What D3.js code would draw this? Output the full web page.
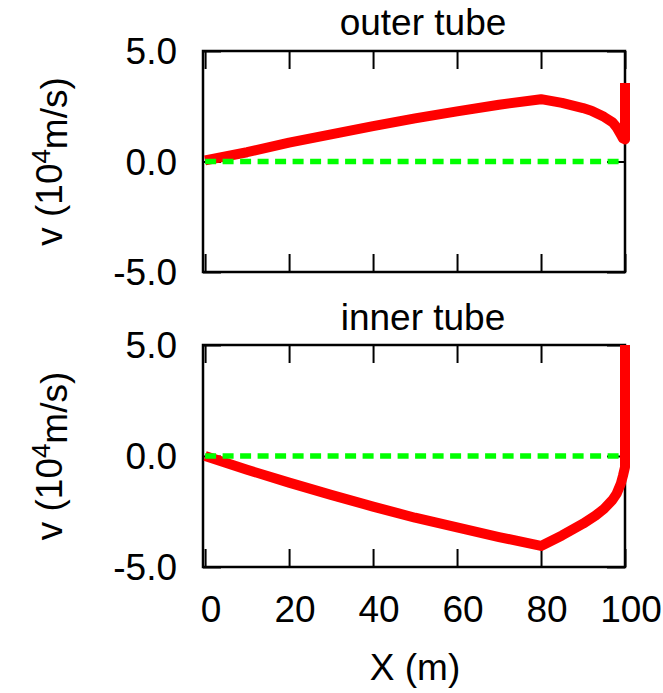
<!DOCTYPE html>
<html><head><meta charset="utf-8">
<script src="https://cdn.jsdelivr.net/npm/d3@7"></script>
<style>
body{margin:0;background:#fff;}
text{font-family:"Liberation Sans",Arial,Helvetica,sans-serif;fill:#000;}
</style></head>
<body><svg id="c" width="663" height="693"></svg>
<script>
// ---- data ----
const panelTitles = ["outer tube", "inner tube"];
const outerX = [0, 10, 20, 30, 40, 50, 60, 70, 80, 85, 90, 92, 95, 97, 98, 99, 99.5, 100, 100];
const outerV = [0.05, 0.42, 0.85, 1.23, 1.6, 1.95, 2.27, 2.57, 2.82, 2.65, 2.42, 2.3, 2.02, 1.78, 1.55, 1.22, 1.05, 1.0, 3.55];
const innerX = [0, 10, 20, 30, 40, 50, 60, 70, 80, 85, 90, 93, 95, 97, 98, 99, 99.5, 100, 100];
const innerV = [0, -0.62, -1.2, -1.75, -2.28, -2.78, -3.22, -3.65, -4.05, -3.58, -3.05, -2.68, -2.38, -1.98, -1.7, -1.25, -0.9, -0.5, 5.0];
const refX = [0, 100];
const refV = [0, 0];
const xTicks = [0, 20, 40, 60, 80, 100];
const yTicks = [-5, 0, 5];
const yTickLabels = ["-5.0", "0.0", "5.0"];
const xLabel = "X (m)";

const svg = d3.select("#c");
const x = d3.scaleLinear().domain([-0.5, 100]).range([203, 625]);
const panels = [
  {title: panelTitles[0], xs: outerX, vs: outerV, top: 51, bottom: 272, titleY: 35, showX: false},
  {title: panelTitles[1], xs: innerX, vs: innerV, top: 345, bottom: 567, titleY: 330, showX: true}
];
const FS = 37;

panels.forEach(p => {
  const y = d3.scaleLinear().domain([-5, 5]).range([p.bottom, p.top]);
  const g = svg.append("g");
  const tl = 18;
  const styleTicks = a => { a.select(".domain").remove(); a.selectAll("line").attr("stroke","#000").attr("stroke-width",2); };
  g.append("g").attr("transform", `translate(0,${p.bottom})`)
    .call(d3.axisBottom(x).tickValues(xTicks).tickSize(-tl).tickFormat("")).call(styleTicks);
  g.append("g").attr("transform", `translate(0,${p.top})`)
    .call(d3.axisTop(x).tickValues(xTicks).tickSize(-tl).tickFormat("")).call(styleTicks);
  g.append("g").attr("transform", `translate(${x.range()[0]},0)`)
    .call(d3.axisLeft(y).tickValues(yTicks).tickSize(-tl).tickFormat("")).call(styleTicks);
  g.append("g").attr("transform", `translate(${x.range()[1]},0)`)
    .call(d3.axisRight(y).tickValues(yTicks).tickSize(-tl).tickFormat("")).call(styleTicks);

  yTicks.forEach((t, i) => {
    g.append("text").attr("x", 177).attr("y", y(t)).attr("dy", "0.36em")
      .attr("text-anchor", "end").style("font-size", FS + "px").text(yTickLabels[i]);
  });
  if (p.showX) {
    xTicks.forEach(t => {
      g.append("text").attr("x", x(t) + 6).attr("y", 622)
        .attr("text-anchor", "middle").style("font-size", FS + "px").text(t);
    });
  }
  g.append("rect").attr("x", x.range()[0]).attr("y", p.top)
    .attr("width", x.range()[1] - x.range()[0]).attr("height", p.bottom - p.top)
    .attr("fill", "none").attr("stroke", "#000").attr("stroke-width", 2.5);

  const line = d3.line().x(d => x(d[0])).y(d => y(d[1]));
  g.append("path").datum(p.xs.map((v, i) => [v, p.vs[i]]))
    .attr("d", line).attr("fill", "none").attr("stroke", "#ff0000")
    .attr("stroke-width", 10).attr("stroke-linejoin", "round");
  g.append("path").datum(refX.map((v, i) => [v, refV[i]]))
    .attr("d", line).attr("fill", "none").attr("stroke", "#00ff00")
    .attr("stroke-width", 5.5).attr("stroke-dasharray", "11,6.5");

  g.append("text").attr("x", 423).attr("y", p.titleY).attr("text-anchor", "middle")
    .style("font-size", FS + "px").text(p.title);
  const yl = g.append("text")
    .attr("transform", `translate(62,${(p.top + p.bottom) / 2}) rotate(-90)`)
    .attr("text-anchor", "middle").style("font-size", FS + "px");
  yl.append("tspan").text("v (10");
  yl.append("tspan").attr("dy", "-0.45em").style("font-size", "0.7em").text("4");
  yl.append("tspan").attr("dy", "0.45em").text("m/s)");
});

svg.append("text").attr("x", 415).attr("y", 680).attr("text-anchor", "middle")
  .style("font-size", FS + "px").text(xLabel);
</script></body></html>
